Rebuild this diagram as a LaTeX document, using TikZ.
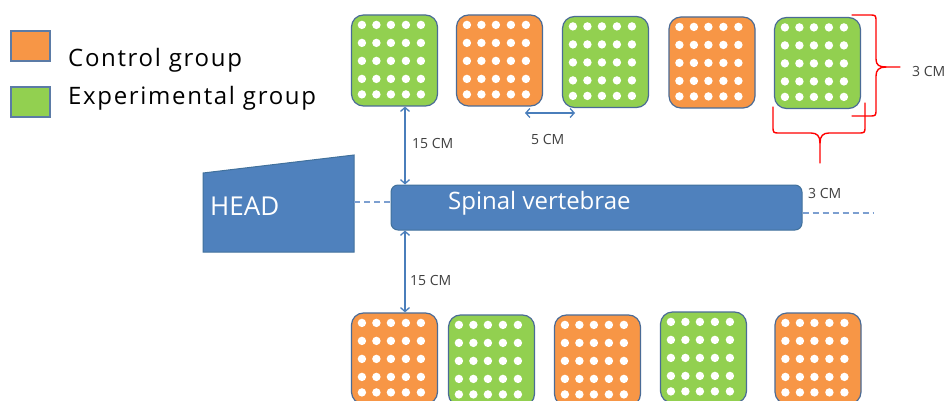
\documentclass[tikz,border=0pt]{standalone}
\usepackage{fontspec}
\setmainfont{Open Sans}
\usetikzlibrary{arrows.meta,calc}
\definecolor{orng}{HTML}{F79646}
\definecolor{grn}{HTML}{92D050}
\definecolor{blu}{HTML}{4F81BD}
\definecolor{bluedge}{HTML}{41719C}
\definecolor{platedge}{HTML}{4A6B96}
\definecolor{legedge}{HTML}{5B7BA6}
\definecolor{arrblue}{HTML}{4A7EBB}
\definecolor{dashblue}{HTML}{7C9FD0}
\definecolor{txtgray}{HTML}{404040}
\newcommand\platedots[1]{%
  \foreach \dx in {11,25.5,40,55,70}{%
    \foreach \dy in {10.5,28.5,46.5,64.5,80}{%
      \fill[white] ($(#1.north west)+(\dx,\dy)$) circle (4.2pt);}}}
\tikzset{
  plate/.style={draw=platedge, line width=1.2pt, rounded corners=12pt,
    minimum width=86pt, minimum height=91pt, inner sep=0pt},
  ctrl/.style={plate, fill=orng},
  expt/.style={plate, fill=grn},
  legbox/.style={draw=legedge, line width=2pt, minimum width=39pt,
    minimum height=30pt, inner sep=0pt},
  dimline/.style={draw=arrblue, line width=1.3pt,
    {Straight Barb[length=4pt,width=9pt]}-{Straight Barb[length=4pt,width=9pt]}},
  lbl/.style={text=txtgray, font=\fontsize{14}{16}\selectfont, inner sep=0pt, anchor=base west},
  legtext/.style={text=black, font=\fontsize{24}{28}\selectfont\addfontfeature{LetterSpace=7},
    inner sep=0pt, anchor=base west},
  whitetext/.style={text=white, inner sep=0pt, anchor=base west},
  dashln/.style={draw=dashblue, line width=1.6pt, dash pattern=on 6pt off 4pt},
  bracestyle/.style={draw=red, line width=1.4pt, line cap=round, line join=round},
}
\begin{document}
\begin{tikzpicture}[x=1pt,y=-1pt]
\useasboundingbox (0,0) rectangle (950,401);
\clip (0,0) rectangle (950,401);
\fill[white] (0,0) rectangle (950,401);

% legend
\node[legbox, fill=orng] (lc) at (30,46.5) {};
\node[legbox, fill=grn] (le) at (30,102) {};
\node[legtext] (lct) at (68,67) {Control group};
\node[legtext] (let) at (68,105) {Experimental group};

% top plates
\node[expt] (t1) at (394.5,60.5) {};
\node[ctrl] (t2) at (499.5,60.5) {};
\node[expt] (t3) at (605.5,62) {};
\node[ctrl] (t4) at (712,62.5) {};
\node[expt] (t5) at (817.5,63) {};
% bottom plates
\node[ctrl] (b1) at (394.5,358.5) {};
\node[expt] (b2) at (491.5,360.5) {};
\node[ctrl] (b3) at (597.5,360.5) {};
\node[expt] (b4) at (703.5,357.5) {};
\node[ctrl] (b5) at (818,358.5) {};
\foreach \p in {t1,t2,t3,t4,t5,b1,b2,b3,b4,b5}{\platedots{\p}}

% head
\draw[fill=blu, draw=bluedge, line width=1pt] (203,173) -- (354,155) -- (354,252) -- (203,252) -- cycle;
\coordinate (headR) at (354,202);
\node[whitetext, font=\fontsize{26}{30}\selectfont] (head) at (210,215) {HEAD};

% spine
\node[fill=blu, draw=bluedge, line width=1pt, rounded corners=7pt,
  minimum width=411pt, minimum height=45pt, inner sep=0pt] (spine) at (596.5,207.5) {};
\node[whitetext, font=\fontsize{24}{28}\selectfont] (spinetxt) at (448,209) {Spinal vertebrae};

% dashed axis
\draw[dashln] (headR) -- (headR -| spine.west);
\coordinate (tailEnd) at (873,213);
\draw[dashln] (tailEnd -| spine.east) -- (tailEnd);

% dimensions
\coordinate (ax) at (405,0);
\draw[dimline] (t1.south -| ax) -- (spine.north -| ax);
\draw[dimline] (spine.south -| ax) -- (b1.north -| ax);
\coordinate (hz) at (0,113);
\coordinate (hl) at (525,0);
\coordinate (hr) at (575,0);
\draw[dimline] (hl |- hz) -- (hr |- hz);

\node[lbl] (l15a) at (412,149) {15 CM};
\node[lbl] (l15b) at (410,285) {15 CM};
\node[lbl] (l5) at (531,144) {5 CM};
\node[lbl] (l3a) at (808,198) {3 CM};
\node[lbl] (l3b) at (912,77) {3 CM};

% red braces
\draw[bracestyle] (852,15) -- (869,15) .. controls (876,15) .. (876,22) -- (876,59)
  .. controls (876,65) and (879,67) .. (886,67) -- (900,67);
\draw[bracestyle] (886,67) .. controls (879,67) and (876,70) .. (876,76) -- (876,109)
  .. controls (876,116) .. (869,116) -- (852,116);
\draw[bracestyle] (773,107) -- (773,126) .. controls (773,133) .. (780,133) -- (811,133)
  .. controls (817,133) and (820,136) .. (820,143) -- (820,163);
\draw[bracestyle] (820,143) .. controls (820,136) and (823,133) .. (829,133) -- (858,133)
  .. controls (865,133) .. (865,126) -- (865,103);
\end{tikzpicture}
\end{document}
